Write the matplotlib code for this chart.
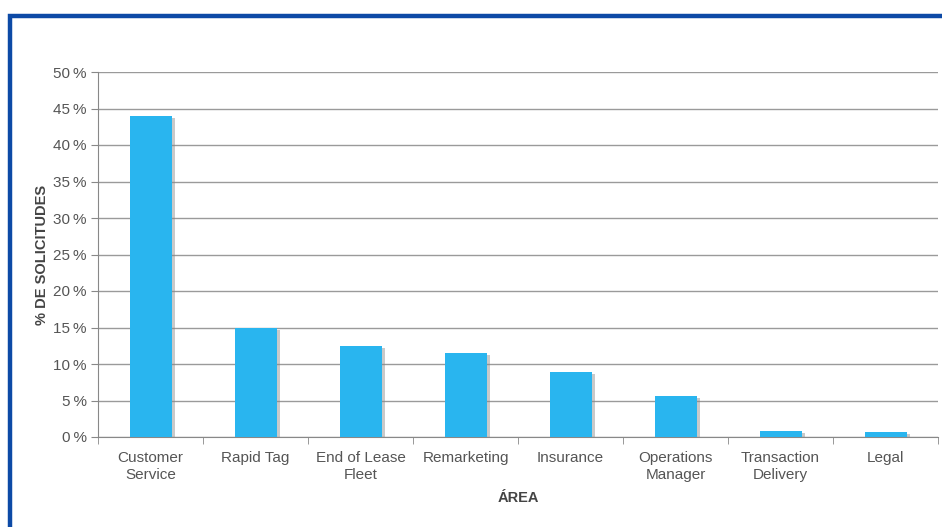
import matplotlib
matplotlib.use("Agg")
import matplotlib.pyplot as plt
import matplotlib.patheffects as pe
from matplotlib.patches import Rectangle
import numpy as np

areas = ["Customer\nService", "Rapid Tag", "End of Lease\nFleet", "Remarketing",
         "Insurance", "Operations\nManager", "Transaction\nDelivery", "Legal"]
pct = [44.0, 14.9, 12.5, 11.5, 8.9, 5.6, 0.8, 0.7]
yticks = [0, 5, 10, 15, 20, 25, 30, 35, 40, 45, 50]

plt.rcParams['font.family'] = ['Liberation Sans', 'DejaVu Sans']

W, H = 942, 527
fig = plt.figure(figsize=(W / 100, H / 100), dpi=100)
fig.patch.set_facecolor("white")

# blue frame, cut off at right and bottom like the screenshot
fig.patches.append(Rectangle((10 / W, -0.05), 1.1, 1 - 16 / H + 0.05,
                             transform=fig.transFigure, fill=False,
                             edgecolor="#0d4aa6", linewidth=3.2))

ax = fig.add_axes([98 / W, 1 - 437 / H, 840 / W, 365 / H])
x = np.arange(len(areas))
bars = ax.bar(x, pct, width=0.4, color="#29b5ef", zorder=3)
for b in bars:
    b.set_path_effects([pe.SimplePatchShadow(offset=(2.5, -1.5), shadow_rgbFace="#888888", alpha=0.45),
                        pe.Normal()])

ax.set_xlim(-0.5, len(areas) - 0.5)
ax.set_ylim(0, 50)
ax.set_yticks(yticks)
ax.set_yticklabels([f"{v}\u2009%" for v in yticks])
ax.set_xticks(x)
ax.set_xticklabels(areas, linespacing=1.3)
ax.set_xticks(np.arange(len(areas) + 1) - 0.5, minor=True)
ax.tick_params(axis="x", which="major", length=0, pad=10, labelsize=11, labelcolor="#555555")
ax.tick_params(axis="x", which="minor", length=5, color="#888888", direction="out")
ax.tick_params(axis="y", length=5, color="#888888", labelsize=11, labelcolor="#555555", pad=3)

ax.grid(axis="y", color="#9a9a9a", linewidth=1, zorder=0)
for s in ["top", "right"]:
    ax.spines[s].set_visible(False)
for s in ["left", "bottom"]:
    ax.spines[s].set_color("#888888")

ax.set_ylabel("% DE SOLICITUDES", fontsize=10.5, fontweight="bold", color="#444444", labelpad=3)
ax.set_xlabel("ÁREA", fontsize=10.5, fontweight="bold", color="#444444", labelpad=6)

fig.savefig("out.png", dpi=100)
